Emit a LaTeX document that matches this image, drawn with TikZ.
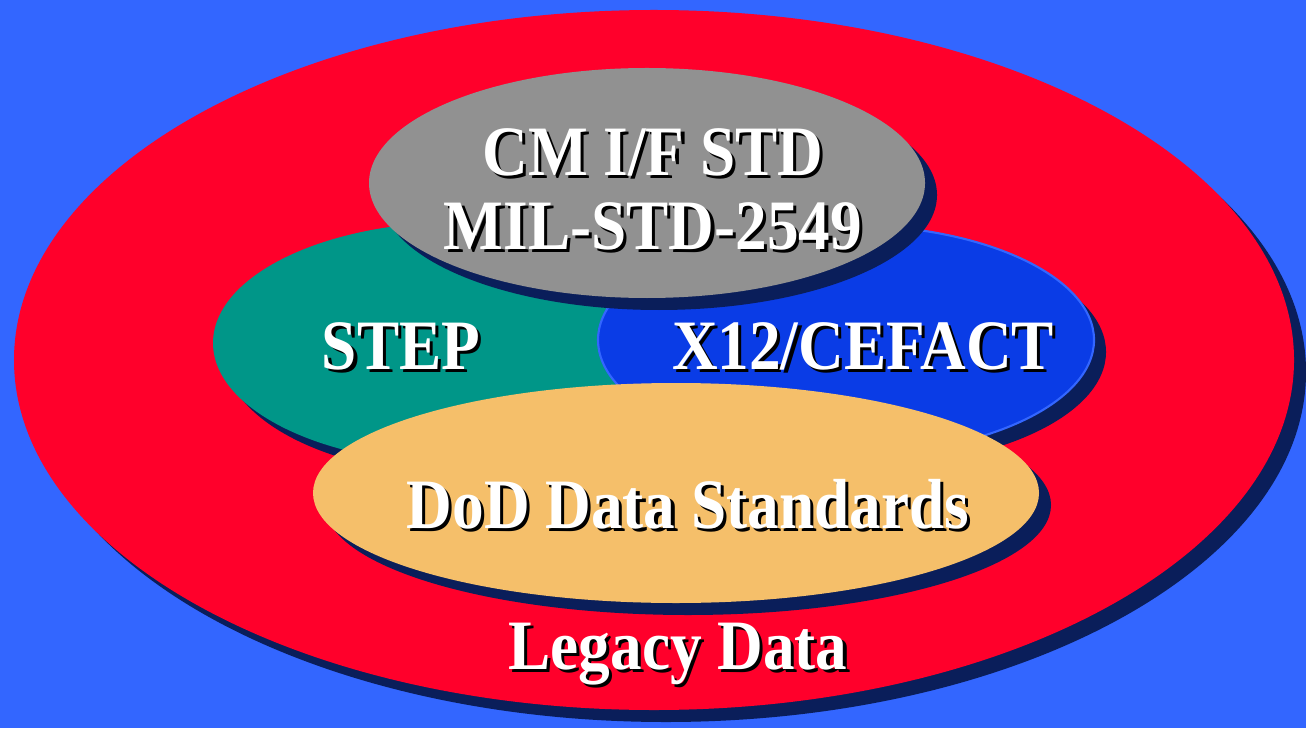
\documentclass[tikz,border=0pt]{standalone}
\usepackage{graphicx}
\usepackage{fontspec}
\setmainfont{Liberation Serif}
\usetikzlibrary{shapes.geometric, shadows}
\definecolor{bgblue}{RGB}{51,102,255}
\definecolor{legred}{RGB}{255,0,43}
\definecolor{navy}{RGB}{10,30,90}
\definecolor{cmgray}{RGB}{145,145,145}
\definecolor{stepteal}{RGB}{0,150,136}
\definecolor{xblue}{RGB}{10,60,230}
\definecolor{dodorange}{RGB}{245,191,106}
\newcommand{\shtxt}[1]{\scalebox{1}[1.12]{\rlap{\hspace{0.9pt}\raisebox{-0.9pt}{\textcolor{black}{#1}}}\textcolor{white}{#1}}}
\tikzstyle{blob} = [ellipse, inner sep=0pt, general shadow={fill=navy, draw=none, shadow xshift=0.12cm, shadow yshift=-0.12cm}]
\tikzstyle{txt} = [inner sep=0pt, align=center, font=\fontsize{18}{21}\selectfont\bfseries]

\begin{document}
\begin{tikzpicture}
	\fill [bgblue] (0,0) rectangle (13.06,-7.28);
	\useasboundingbox (0,0) rectangle (13.06,-7.28);
	
	\node (E1) [blob, fill=legred, minimum width=12.8cm, minimum height=7cm] at (6.54,-3.60) {};
	\node (E2) [blob, fill=stepteal, minimum width=4.94cm, minimum height=2.42cm] at (4.60,-3.43) {};
	\node (E3) [blob, fill=xblue, draw=bgblue, line width=0.6pt, minimum width=4.96cm, minimum height=2.30cm] at (8.46,-3.40) {};
	\node (E4) [blob, fill=cmgray, minimum width=5.56cm, minimum height=2.30cm] at (6.47,-1.83) {};
	\node (E5) [blob, fill=dodorange, minimum width=7.26cm, minimum height=2.20cm] at (6.76,-4.93) {};
	
	\node (T4) [txt] at (6.53,-1.91) {\shtxt{CM I/F STD}\\\shtxt{MIL-STD-2549}};
	\node (T2) [txt, anchor=base] at (4.01,-3.69) {\shtxt{STEP}};
	\node (T3) [txt, anchor=base] at (8.63,-3.69) {\shtxt{X12/CEFACT}};
	\node (T5) [txt, anchor=base] at (6.88,-5.28) {\shtxt{DoD Data Standards}};
	\node (T1) [txt, anchor=base] at (6.78,-6.69) {\shtxt{Legacy Data}};
\end{tikzpicture}
\end{document}
